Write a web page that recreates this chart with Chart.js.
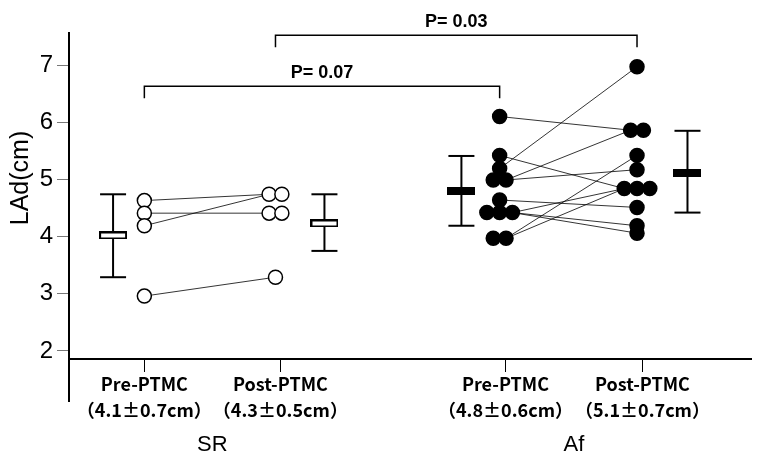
<!DOCTYPE html>
<html>
<head>
<meta charset="utf-8">
<script src="https://cdn.jsdelivr.net/npm/chart.js@4.4.0/dist/chart.umd.min.js"></script>
<style>
html, body { margin: 0; padding: 0; background: #fff; }
#wrap { width: 766px; height: 457px; }
</style>
</head>
<body>
<div id="wrap"><canvas id="chart" width="766" height="457"></canvas></div>
<script>
// LAd (cm) per patient
const srPre  = [4.63, 4.41, 4.19, 2.96];
const srPost = [4.74, 4.74, 4.41, 4.41, 3.29];
const afPre  = [6.10, 5.42, 5.19, 4.99, 4.99, 4.64, 4.42, 4.42, 4.42, 3.97, 3.97];
const afPost = [6.97, 5.86, 5.86, 5.42, 5.17, 4.84, 4.84, 4.84, 4.51, 4.19, 4.06];

// which pre point is joined to which post point (indexes into the arrays above)
const srLinks = [[0, 0], [1, 2], [2, 0], [3, 4]];
const afLinks = [[0, 1], [2, 0], [1, 5], [4, 1], [4, 4], [5, 8], [8, 5], [8, 9], [8, 10], [10, 3], [10, 5]];

// mean and bar range per group: SR pre, SR post, Af pre, Af post
const groupMean = [4.02, 4.23, 4.79, 5.12];
const groupLow  = [3.29, 3.75, 4.19, 4.42];
const groupHigh = [4.74, 4.74, 5.41, 5.85];

const tickLabels = [
    ['Pre-PTMC', '（4.1±0.7cm）'],
    ['Post-PTMC', '（4.3±0.5cm）'],
    ['Pre-PTMC', '（4.8±0.6cm）'],
    ['Post-PTMC', '（5.1±0.7cm）']
];
const rhythmLabels = ['SR', 'Af'];
const yTicks = [2, 3, 4, 5, 6, 7];
const pLabels = ['P= 0.07', 'P= 0.03'];

// layout on the x axis (arbitrary units)
const tickX = [1, 2, 3.655, 4.662];
const dotX = [1, 1.964, 3.612, 4.622];
const meanX = [0.77, 2.324, 3.331, 4.993];
const spread = 0.094;

const FONT = '"Liberation Sans", Arial, sans-serif';
const JP_FONT = '"Noto Sans CJK JP", "Liberation Sans", sans-serif';

// put equal values side by side around the group centre
function spreadX(values, cx) {
    const count = {};
    values.forEach(v => count[v] = (count[v] || 0) + 1);
    const used = {};
    return values.map(v => {
        const i = used[v] = (used[v] === undefined ? 0 : used[v] + 1);
        return cx + (i - (count[v] - 1) / 2) * spread;
    });
}

function toPoints(values, xs) {
    return values.map((v, i) => ({ x: xs[i], y: v }));
}

// little bar used as the mean marker
function meanMark(filled) {
    const c = document.createElement('canvas');
    c.width = 28; c.height = 8;
    const g = c.getContext('2d');
    g.fillStyle = '#000';
    g.fillRect(0, 0, 28, 8);
    if (!filled) {
        g.fillStyle = '#fff';
        g.fillRect(2, 2, 24, 4);
    }
    return c;
}

const groups = [srPre, srPost, afPre, afPost];
const xs = groups.map((vals, g) => spreadX(vals, dotX[g]));

const datasets = [];

// patient dots
groups.forEach((vals, g) => {
    const open = g < 2;
    datasets.push({
        data: toPoints(vals, xs[g]),
        pointRadius: 7,
        pointBorderWidth: 1.5,
        pointBorderColor: '#000',
        pointBackgroundColor: open ? '#fff' : '#000',
        order: 0
    });
});

// mean markers
datasets.push({
    data: groupMean.map((m, g) => ({ x: meanX[g], y: m })),
    pointStyle: [meanMark(false), meanMark(false), meanMark(true), meanMark(true)],
    order: 1
});

// range bars with caps
groupMean.forEach((m, g) => {
    datasets.push({
        data: [{ x: meanX[g], y: groupLow[g] }, { x: meanX[g], y: groupHigh[g] }],
        showLine: true,
        borderColor: '#000',
        borderWidth: 2,
        pointStyle: 'line',
        pointRadius: 13,
        pointBorderWidth: 2,
        pointBorderColor: '#000',
        order: 2
    });
});

// pre -> post lines
function addLinks(links, a, b) {
    links.forEach(([i, j]) => {
        datasets.push({
            data: [{ x: xs[a][i], y: groups[a][i] }, { x: xs[b][j], y: groups[b][j] }],
            showLine: true,
            borderColor: '#000',
            borderWidth: 0.8,
            pointRadius: 0,
            order: 3
        });
    });
}
addLinks(srLinks, 0, 1);
addLinks(afLinks, 2, 3);

// significance brackets: SR pre vs Af pre, SR post vs Af post
const brackets = [
    { from: 0, to: 2, top: 6.63, foot: 6.42 },
    { from: 1, to: 3, top: 7.52, foot: 7.31 }
];
brackets.forEach(b => {
    datasets.push({
        data: [
            { x: dotX[b.from], y: b.foot }, { x: dotX[b.from], y: b.top },
            { x: dotX[b.to], y: b.top }, { x: dotX[b.to], y: b.foot }
        ],
        showLine: true,
        borderColor: '#000',
        borderWidth: 1.5,
        pointRadius: 0,
        clip: false,
        order: 3
    });
});

const extras = {
    id: 'extras',
    afterDraw(chart) {
        const { ctx, chartArea: a, scales: { x, y } } = chart;
        ctx.save();
        // left axis runs on below the x axis
        ctx.strokeStyle = '#000';
        ctx.lineWidth = 2;
        ctx.beginPath();
        ctx.moveTo(a.left, a.bottom);
        ctx.lineTo(a.left, 402);
        ctx.stroke();

        ctx.fillStyle = '#000';
        ctx.textAlign = 'center';
        ctx.textBaseline = 'middle';

        // P values above the brackets
        ctx.font = 'bold 18px ' + FONT;
        brackets.forEach((b, k) => {
            const px = (x.getPixelForValue(dotX[b.from]) + x.getPixelForValue(dotX[b.to])) / 2;
            ctx.fillText(pLabels[k], px, y.getPixelForValue(b.top) - 13);
        });

        // SR / Af under each pair
        ctx.font = '22px ' + FONT;
        rhythmLabels.forEach((t, k) => {
            const px = (x.getPixelForValue(tickX[2 * k]) + x.getPixelForValue(tickX[2 * k + 1])) / 2;
            ctx.fillText(t, px, 445);
        });

        // y title
        ctx.font = '25px ' + FONT;
        ctx.translate(21, 178);
        ctx.rotate(-Math.PI / 2);
        ctx.fillText('LAd(cm)', 0, 0);
        ctx.restore();
    }
};

new Chart(document.getElementById('chart'), {
    type: 'scatter',
    data: { datasets: datasets },
    options: {
        responsive: false,
        animation: false,
        layout: { padding: { top: 33, right: 0, left: 0, bottom: 0 } },
        plugins: {
            legend: { display: false },
            tooltip: { enabled: false }
        },
        scales: {
            x: {
                type: 'linear',
                min: 0.446,
                max: 5.46,
                afterBuildTicks: scale => { scale.ticks = tickX.map(v => ({ value: v })); },
                afterFit: scale => { scale.height = 98; },
                grid: { drawOnChartArea: false, drawTicks: true, tickLength: 13, color: '#000', lineWidth: 1 },
                border: { display: true, color: '#000', width: 2 },
                ticks: {
                    autoSkip: false,
                    maxRotation: 0,
                    padding: 0,
                    color: '#000',
                    font: { family: JP_FONT, size: 18, weight: 'bold', lineHeight: 1.4 },
                    callback: (value, index) => tickLabels[index]
                }
            },
            y: {
                min: 1.86,
                max: 7.56,
                afterBuildTicks: scale => { scale.ticks = yTicks.map(v => ({ value: v })); },
                afterFit: scale => { scale.width = 69; },
                grid: { drawOnChartArea: false, drawTicks: true, tickLength: 12, color: '#777', lineWidth: 1 },
                border: { display: true, color: '#000', width: 2 },
                ticks: {
                    padding: 4,
                    color: '#000',
                    font: { family: FONT, size: 24 }
                }
            }
        }
    },
    plugins: [extras]
});
</script>
</body>
</html>
